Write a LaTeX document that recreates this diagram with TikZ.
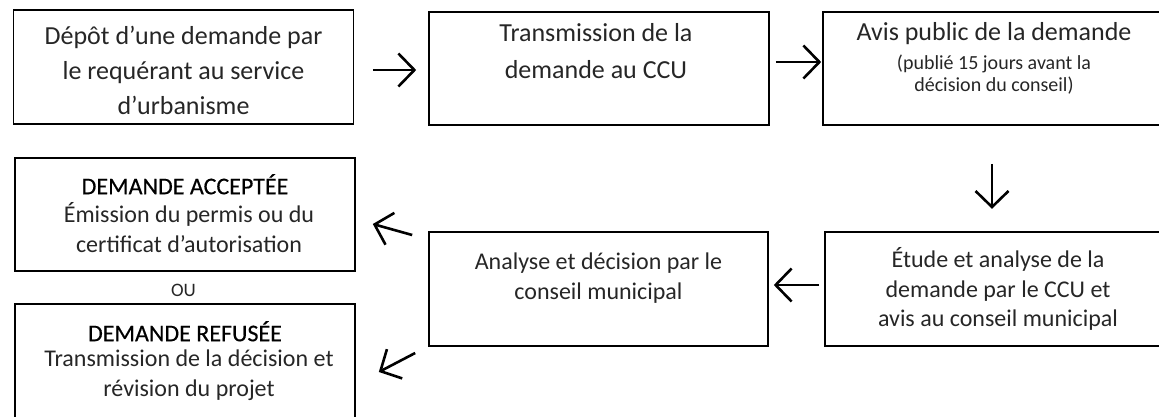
\documentclass[tikz,border=0pt]{standalone}
\usepackage{fontspec}
\setmainfont{Carlito}
\usetikzlibrary{arrows.meta,calc}
\definecolor{lighttext}{gray}{0.15}
\tikzset{
  box/.style={draw=black, line width=1.6pt, rectangle, inner sep=0pt},
  txt/.style={align=center, inner sep=0pt, text=lighttext},
  big/.style={font=\fontsize{26}{35}\selectfont},
  bigb/.style={font=\fontsize{26}{37}\selectfont},
  mid/.style={font=\fontsize{24}{29.5}\selectfont},
  small/.style={font=\fontsize{20}{22}\selectfont},
  head/.style={font=\fontsize{24}{29.5}\selectfont\addfontfeature{FakeBold=0.4}, text=black},
  arr/.style={line width=2.6pt, -{Straight Barb[length=16pt,width=33pt,line width=2.6pt]}},
}
\begin{document}
\begin{tikzpicture}[x=1pt,y=-1pt]
\useasboundingbox (0,0) rectangle (1159,416);
\clip (0,0) rectangle (1159,416);
% boxes
\node[box, minimum width=340pt, minimum height=114pt] (b1) at (183.5,67) {};
\node[box, minimum width=340pt, minimum height=113pt] (b2) at (599,68.5) {};
\node[box, minimum width=340pt, minimum height=113pt] (b3) at (993,68.5) {};
\node[box, minimum width=340pt, minimum height=114pt] (b4) at (995,289) {};
\node[box, minimum width=339pt, minimum height=114pt] (b5) at (598.5,289) {};
\node[box, minimum width=340pt, minimum height=113pt] (b6) at (185,214.5) {};
\node[box, minimum width=340pt, minimum height=140pt] (b7) at (185,374) {};
% texts
\node[txt, big] (t1) at (183.5,70) {Dépôt d’une demande par\\le requérant au service\\d’urbanisme};
\node[txt, bigb] (t2) at (596,51.5) {Transmission de la\\demande au CCU};
\node[txt, big] (t3a) at (994,34) {Avis public de la demande};
\node[txt, small] (t3b) at (994,75) {(publié 15 jours avant la\\décision du conseil)};
\node[txt, mid] (t4) at (998,289) {Étude et analyse de la\\demande par le CCU et\\avis au conseil municipal};
\node[txt, mid] (t5) at (598.5,278) {Analyse et décision par le\\conseil municipal};
\node[txt, head, anchor=north] (t6h) at (185,174) {DEMANDE ACCEPTÉE};
\node[txt, font=\fontsize{24}{30}\selectfont, anchor=north] (t6) at (189,202) {Émission du permis ou du\\certificat d’autorisation};
\node[txt, font=\fontsize{19}{22}\selectfont] (ou) at (183.5,290) {OU};
\node[txt, head, anchor=north] (t7h) at (185,321) {DEMANDE REFUSÉE};
\node[txt, font=\fontsize{24}{30}\selectfont, anchor=north] (t7) at (189,350) {Transmission de la décision et\\révision du projet};
% connectors
\draw[arr] ($(b1.east)+(18.5,3)$) -- ($(b2.west)+(-12,1.5)$);
\draw[arr] ($(b2.east)+(6,-6.5)$) -- ($(b3.west)+(-1,-6.5)$);
\draw[arr] ($(b3.south)+(-1,38)$) -- ($(b3.south)+(-1,83)$);
\draw[arr] ($(b4.west)+(-5,-4)$) -- ($(b5.east)+(5,-4)$);
\draw[arr] ($(b5.west)+(-16,-54)$) -- ($(b6.east)+(17,9.5)$);
\draw[arr] ($(b5.west)+(-13,64)$) -- ($(b7.east)+(23,-2)$);
\end{tikzpicture}
\end{document}
